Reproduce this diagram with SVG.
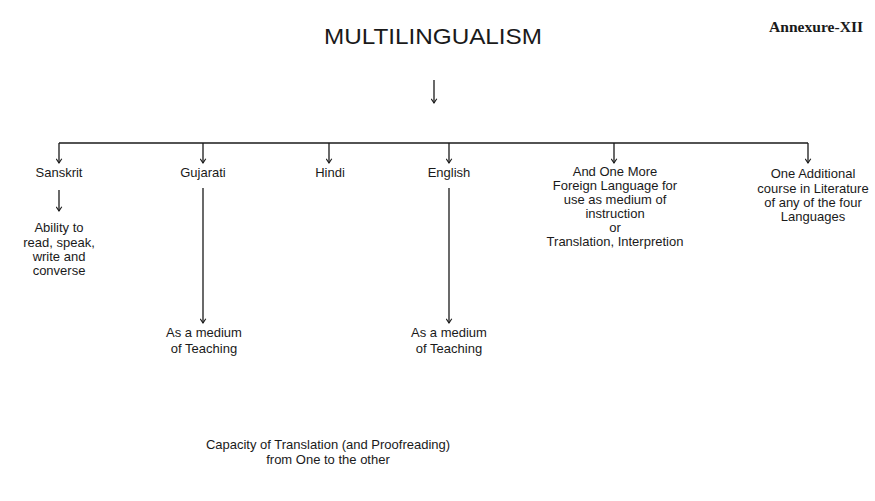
<svg xmlns="http://www.w3.org/2000/svg" width="875" height="501" viewBox="0 0 875 501">
<defs>
<style>
text{font-family:"Liberation Sans",Arial,sans-serif;font-size:13px;fill:#1a1a1a;text-anchor:middle}
.title{font-size:21.5px}
.annex{font-family:"Liberation Serif","Times New Roman",serif;font-weight:bold;font-size:14px;text-anchor:start}
.ln{stroke:#1a1a1a;stroke-width:1.3;fill:none}
</style>
<marker id="ah" viewBox="0 0 10 10" refX="9" refY="5" markerWidth="7" markerHeight="7" markerUnits="userSpaceOnUse" orient="auto">
<path d="M3,1 L9,5 L3,9" fill="none" stroke="#1a1a1a" stroke-width="1.6"/>
</marker>
</defs>
<rect width="875" height="501" fill="#ffffff"/>
<g id="title"><text class="title" x="433" y="44" textLength="218" lengthAdjust="spacingAndGlyphs">MULTILINGUALISM</text></g>
<g id="annexure"><text class="annex" x="769" y="32" textLength="94" lengthAdjust="spacingAndGlyphs">Annexure-XII</text></g>
<g id="connectors">
<line class="ln" x1="434" y1="80" x2="434" y2="103" marker-end="url(#ah)"/>
<line class="ln" x1="59" y1="143" x2="808" y2="143"/>
<line class="ln" x1="59" y1="143" x2="59" y2="163" marker-end="url(#ah)"/>
<line class="ln" x1="203" y1="143" x2="203" y2="163" marker-end="url(#ah)"/>
<line class="ln" x1="329" y1="143" x2="329" y2="163" marker-end="url(#ah)"/>
<line class="ln" x1="449" y1="143" x2="449" y2="163" marker-end="url(#ah)"/>
<line class="ln" x1="614" y1="143" x2="614" y2="163" marker-end="url(#ah)"/>
<line class="ln" x1="808" y1="143" x2="808" y2="163" marker-end="url(#ah)"/>
<line class="ln" x1="59" y1="190" x2="59" y2="211" marker-end="url(#ah)"/>
<line class="ln" x1="203" y1="188" x2="203" y2="323" marker-end="url(#ah)"/>
<line class="ln" x1="449" y1="188" x2="449" y2="323" marker-end="url(#ah)"/>
</g>
<g id="sanskrit"><text x="59" y="177">Sanskrit</text></g>
<g id="gujarati"><text x="203" y="177">Gujarati</text></g>
<g id="hindi"><text x="330" y="177">Hindi</text></g>
<g id="english"><text x="449" y="177">English</text></g>
<g id="foreign">
<text x="615" y="176">And One More</text>
<text x="615" y="190">Foreign Language for</text>
<text x="615" y="204">use as medium of</text>
<text x="615" y="218">instruction</text>
<text x="615" y="232">or</text>
<text x="615" y="246">Translation, Interpretion</text>
</g>
<g id="additional">
<text x="813" y="178">One Additional</text>
<text x="813" y="193">course in Literature</text>
<text x="813" y="207">of any of the four</text>
<text x="813" y="221">Languages</text>
</g>
<g id="ability">
<text x="59" y="232">Ability to</text>
<text x="59" y="247">read, speak,</text>
<text x="59" y="261">write and</text>
<text x="59" y="275">converse</text>
</g>
<g id="gujarati-medium">
<text x="204" y="337">As a medium</text>
<text x="204" y="353">of Teaching</text>
</g>
<g id="english-medium">
<text x="449" y="337">As a medium</text>
<text x="449" y="353">of Teaching</text>
</g>
<g id="capacity">
<text x="328" y="449">Capacity of Translation (and Proofreading)</text>
<text x="328" y="464">from One to the other</text>
</g>
</svg>
